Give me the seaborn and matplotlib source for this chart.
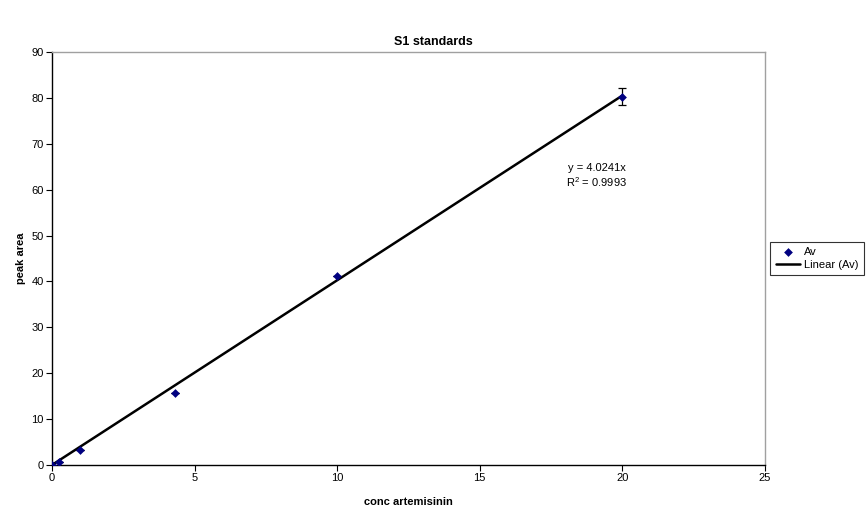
import numpy as np
import pandas as pd
import matplotlib
matplotlib.use("Agg")
import matplotlib.pyplot as plt
import seaborn as sns

# Standard concentrations and their averaged peak areas
conc = [0.0, 0.25, 1.0, 4.3, 10.0, 20.0]
peak_area = [0.0, 0.6, 3.2, 15.7, 41.1, 80.3]
area_err = [0.0, 0.0, 0.0, 0.0, 0.0, 1.9]

slope = 4.0241
r_squared = 0.9993

x_ticks = [0, 5, 10, 15, 20, 25]
y_ticks = [0, 10, 20, 30, 40, 50, 60, 70, 80, 90]

sns.set_theme(style="white")
plt.rcParams["font.family"] = ["Liberation Sans", "DejaVu Sans"]
plt.rcParams["text.color"] = "black"
plt.rcParams["axes.labelcolor"] = "black"

df = pd.DataFrame({"conc": conc, "area": peak_area, "err": area_err})

fig = plt.figure(figsize=(8.66, 5.13), dpi=100)
ax = fig.add_axes([0.060, 0.0936, 0.823, 0.805])

# Error bars (only the top standard has a visible spread)
ax.errorbar(df["conc"], df["area"], yerr=df["err"], fmt="none",
            ecolor="black", elinewidth=0.9, capsize=3, capthick=0.9, zorder=2)

# Trendline through the origin
fit_x = np.array([0.0, max(conc)])
sns.lineplot(x=fit_x, y=slope * fit_x, ax=ax, color="black", linewidth=1.8,
             label="Linear (Av)", zorder=3)

sns.scatterplot(data=df, x="conc", y="area", ax=ax, marker="D", s=20,
                color="#000080", edgecolor="#000080", linewidth=0,
                label="Av", zorder=4)

ax.set_xlim(0, 25)
ax.set_ylim(0, 90)
ax.set_xticks(x_ticks)
ax.set_yticks(y_ticks)
ax.tick_params(axis="both", which="both", direction="out", length=4, width=0.8,
               colors="black", labelcolor="black", labelsize=8,
               bottom=True, left=True, pad=2)

for side in ("left", "bottom"):
    ax.spines[side].set_color("black")
    ax.spines[side].set_linewidth(1.0)
for side in ("top", "right"):
    ax.spines[side].set_color("#a0a0a0")
    ax.spines[side].set_linewidth(1.0)

ax.set_xlabel("conc artemisinin", fontsize=8, fontweight="bold", labelpad=10,
              color="black")
ax.set_ylabel("peak area", fontsize=8, fontweight="bold", labelpad=4,
              color="black")
fig.suptitle("S1 standards", x=0.5, y=0.93, fontsize=9, fontweight="bold",
             color="black")

ax.text(19.1, 63.0, f"y = {slope}x\n$\\mathregular{{R^2}}$ = {r_squared}",
        fontsize=8, ha="center", va="center", linespacing=1.25, color="black")

handles, labels = ax.get_legend_handles_labels()
order = [labels.index("Av"), labels.index("Linear (Av)")]
leg = ax.legend([handles[i] for i in order], [labels[i] for i in order],
                loc="center left", bbox_to_anchor=(1.008, 0.5), fontsize=8,
                frameon=True, fancybox=False, edgecolor="black",
                handlelength=2.2, handletextpad=0.3, borderpad=0.5,
                labelspacing=0.25, borderaxespad=0)
leg.get_frame().set_linewidth(0.8)
for t in leg.get_texts():
    t.set_color("black")

fig.savefig("out.png", dpi=100, facecolor="white")
